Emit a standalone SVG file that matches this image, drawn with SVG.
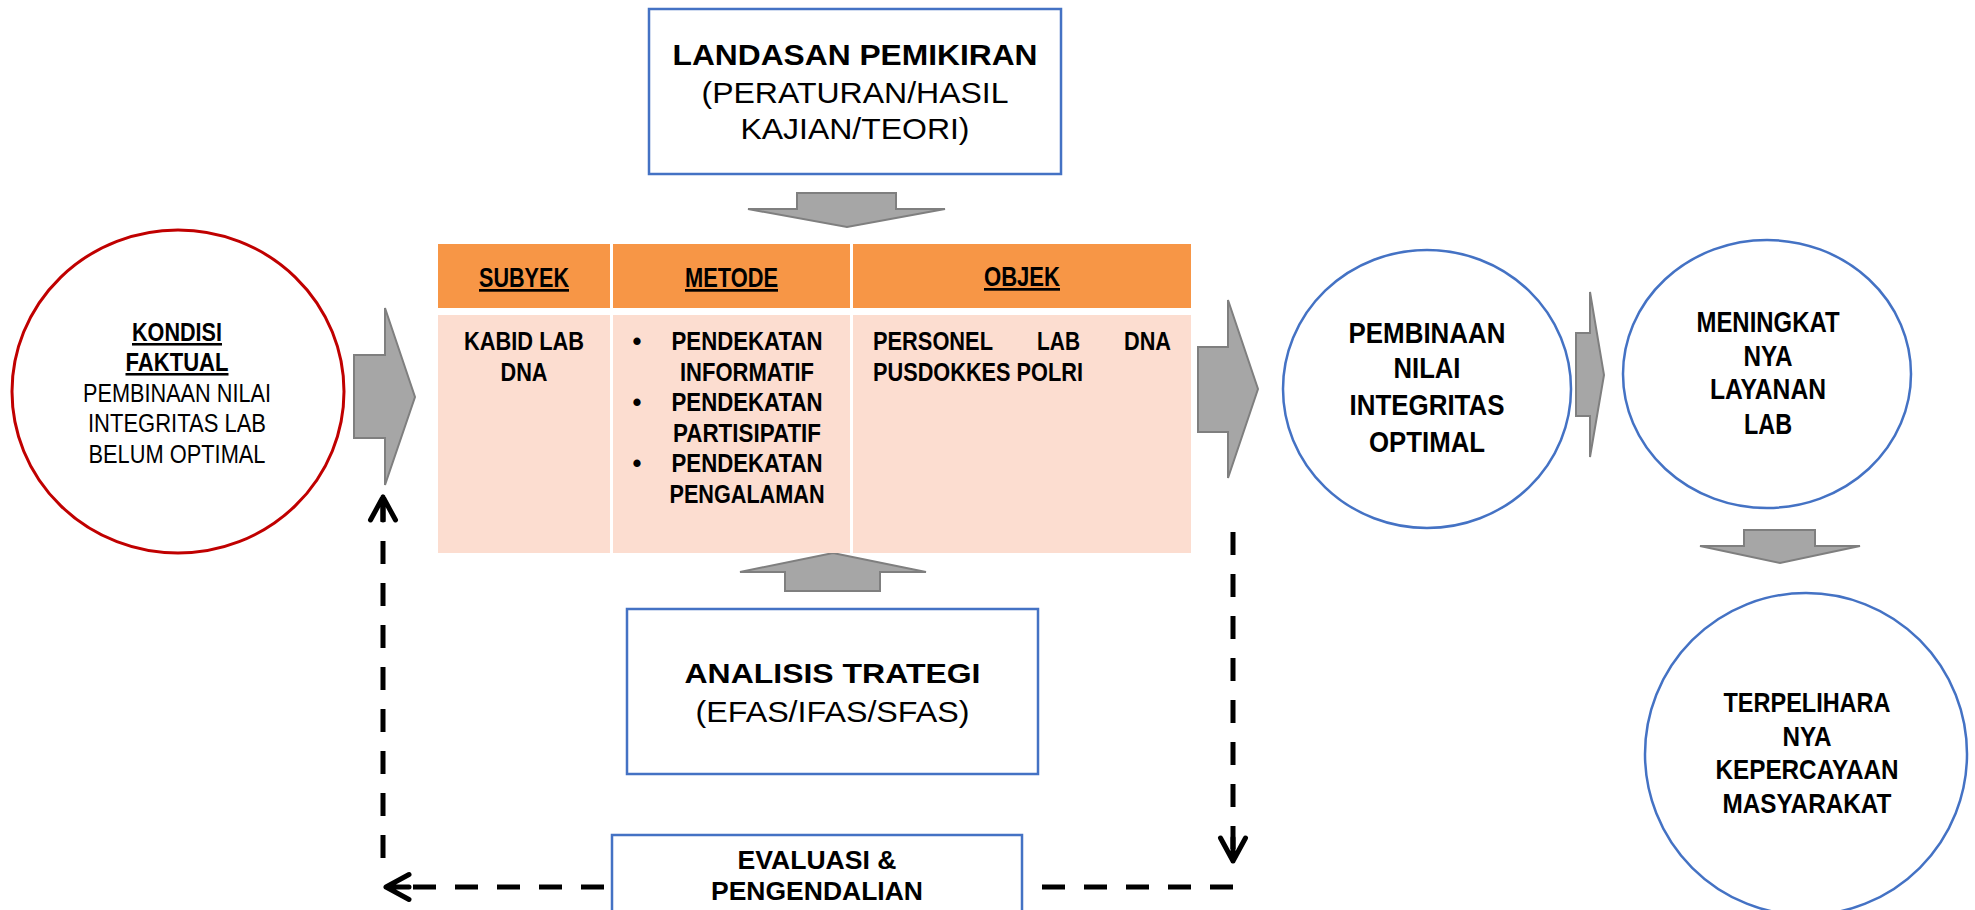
<svg xmlns="http://www.w3.org/2000/svg" width="1975" height="910" viewBox="0 0 1975 910">
<style>
  text { font-family: "Liberation Sans", Arial, sans-serif; fill: #000; }
  .b { font-weight: bold; }
  .r { font-weight: normal; }
  .u { text-decoration: underline; }
  .c { text-anchor: middle; }
  .blue { fill: #fff; stroke: #4472C4; stroke-width: 2.5; }
  .red { fill: #fff; stroke: #C00000; stroke-width: 3; }
  .hdr { fill: #F79646; }
  .body { fill: #FCDDD0; }
  .blk { fill: #A6A6A6; stroke: #7F7F7F; stroke-width: 2; stroke-linejoin: miter; }
  .dash { fill: none; stroke: #000; stroke-width: 5; stroke-dasharray: 23 19; }
</style>
<defs>
  <marker id="chev" markerUnits="userSpaceOnUse" markerWidth="40" markerHeight="40" viewBox="-30 -20 40 40" refX="0" refY="0" orient="auto" overflow="visible">
    <path d="M-23,-12.5 L0,0 L-23,12.5 M-23,0 L0,0" fill="none" stroke="#000" stroke-width="5" stroke-linecap="round" stroke-linejoin="round"/>
  </marker>
</defs>
<rect width="1975" height="910" fill="#fff"/>

<g id="connectors">
  <path class="blk" d="M354,355 L385,355 L385,308 L415,397 L385,485 L385,438 L354,438 Z"/>
  <path class="blk" d="M1198,347 L1228,347 L1228,300 L1258,389 L1228,478 L1228,432 L1198,432 Z"/>
  <path class="blk" d="M1576,333 L1590,333 L1590,292 L1604,375 L1590,457 L1590,416 L1576,416 Z"/>
  <path class="blk" d="M797,193 L896,193 L896,209 L945,209 L847,227 L748,209 L797,209 Z"/>
  <path class="blk" d="M785,591 L880,591 L880,572 L926,572 L833,553 L740,572 L785,572 Z"/>
  <path class="blk" d="M1744,530 L1815,530 L1815,546 L1860,546 L1780,563 L1700,546 L1744,546 Z"/>
  <path class="dash" d="M383,858 L383,497" marker-end="url(#chev)"/>
  <path class="dash" d="M604,887 L386,887" marker-end="url(#chev)"/>
  <path class="dash" d="M1233,532 L1233,861" marker-end="url(#chev)"/>
  <path class="dash" d="M1233,887 L1023,887"/>
</g>

<g id="kondisi">
  <ellipse class="red" cx="178" cy="391.5" rx="166" ry="161.5"/>
  <text class="b u c" x="177" y="341" font-size="25.5" textLength="90" lengthAdjust="spacingAndGlyphs">KONDISI</text>
  <text class="b u c" x="177" y="371" font-size="25.5" textLength="103" lengthAdjust="spacingAndGlyphs">FAKTUAL</text>
  <text class="r c" x="177" y="402" font-size="26" textLength="188" lengthAdjust="spacingAndGlyphs">PEMBINAAN NILAI</text>
  <text class="r c" x="177" y="432" font-size="26" textLength="178" lengthAdjust="spacingAndGlyphs">INTEGRITAS LAB</text>
  <text class="r c" x="177" y="463" font-size="26" textLength="177" lengthAdjust="spacingAndGlyphs">BELUM OPTIMAL</text>
</g>

<g id="landasan">
  <rect class="blue" x="649" y="9" width="412" height="165"/>
  <text class="b c" x="855" y="65" font-size="30" textLength="365" lengthAdjust="spacingAndGlyphs">LANDASAN PEMIKIRAN</text>
  <text class="r c" x="855" y="103" font-size="30" textLength="307" lengthAdjust="spacingAndGlyphs">(PERATURAN/HASIL</text>
  <text class="r c" x="855" y="139" font-size="30" textLength="229" lengthAdjust="spacingAndGlyphs">KAJIAN/TEORI)</text>
</g>

<g id="subyek">
  <rect class="hdr" x="438" y="244" width="172" height="64"/>
  <rect class="body" x="438" y="315" width="172" height="238"/>
  <text class="b u c" x="524" y="287" font-size="27" textLength="90" lengthAdjust="spacingAndGlyphs">SUBYEK</text>
  <text class="b c" x="524" y="350" font-size="25.5" textLength="120" lengthAdjust="spacingAndGlyphs">KABID LAB</text>
  <text class="b c" x="524" y="381" font-size="25.5" textLength="47" lengthAdjust="spacingAndGlyphs">DNA</text>
</g>

<g id="metode">
  <rect class="hdr" x="613" y="244" width="237" height="64"/>
  <rect class="body" x="613" y="315" width="237" height="238"/>
  <text class="b u c" x="731.5" y="287" font-size="27" textLength="93" lengthAdjust="spacingAndGlyphs">METODE</text>
  <text class="b c" x="637" y="350" font-size="25.5">•</text>
  <text class="b c" x="637" y="411" font-size="25.5">•</text>
  <text class="b c" x="637" y="472" font-size="25.5">•</text>
  <text class="b c" x="747" y="350" font-size="25.5" textLength="151" lengthAdjust="spacingAndGlyphs">PENDEKATAN</text>
  <text class="b c" x="747" y="381" font-size="25.5" textLength="134" lengthAdjust="spacingAndGlyphs">INFORMATIF</text>
  <text class="b c" x="747" y="411" font-size="25.5" textLength="151" lengthAdjust="spacingAndGlyphs">PENDEKATAN</text>
  <text class="b c" x="747" y="442" font-size="25.5" textLength="148" lengthAdjust="spacingAndGlyphs">PARTISIPATIF</text>
  <text class="b c" x="747" y="472" font-size="25.5" textLength="151" lengthAdjust="spacingAndGlyphs">PENDEKATAN</text>
  <text class="b c" x="747" y="503" font-size="25.5" textLength="155" lengthAdjust="spacingAndGlyphs">PENGALAMAN</text>
</g>

<g id="objek">
  <rect class="hdr" x="853" y="244" width="338" height="64"/>
  <rect class="body" x="853" y="315" width="338" height="238"/>
  <text class="b u c" x="1022" y="286" font-size="27" textLength="76" lengthAdjust="spacingAndGlyphs">OBJEK</text>
  <text class="b" x="873" y="350" font-size="25.5" textLength="120" lengthAdjust="spacingAndGlyphs">PERSONEL</text>
  <text class="b" x="1037" y="350" font-size="25.5" textLength="43" lengthAdjust="spacingAndGlyphs">LAB</text>
  <text class="b" x="1124" y="350" font-size="25.5" textLength="47" lengthAdjust="spacingAndGlyphs">DNA</text>
  <text class="b" x="873" y="381" font-size="25.5" textLength="210" lengthAdjust="spacingAndGlyphs">PUSDOKKES POLRI</text>
</g>

<g id="analisis">
  <rect class="blue" x="627" y="609" width="411" height="165"/>
  <text class="b c" x="832.5" y="683" font-size="28" textLength="296" lengthAdjust="spacingAndGlyphs">ANALISIS TRATEGI</text>
  <text class="r c" x="832.5" y="722" font-size="30" textLength="274" lengthAdjust="spacingAndGlyphs">(EFAS/IFAS/SFAS)</text>
</g>

<g id="evaluasi">
  <rect class="blue" x="612" y="835" width="410" height="110"/>
  <text class="b c" x="817" y="869" font-size="25" textLength="159" lengthAdjust="spacingAndGlyphs">EVALUASI &amp;</text>
  <text class="b c" x="817" y="900" font-size="25" textLength="212" lengthAdjust="spacingAndGlyphs">PENGENDALIAN</text>
</g>

<g id="pembinaan">
  <ellipse class="blue" cx="1427" cy="389" rx="144" ry="139"/>
  <text class="b c" x="1427" y="343" font-size="29" textLength="157" lengthAdjust="spacingAndGlyphs">PEMBINAAN</text>
  <text class="b c" x="1427" y="378" font-size="29" textLength="67" lengthAdjust="spacingAndGlyphs">NILAI</text>
  <text class="b c" x="1427" y="415" font-size="29" textLength="155" lengthAdjust="spacingAndGlyphs">INTEGRITAS</text>
  <text class="b c" x="1427" y="452" font-size="29" textLength="116" lengthAdjust="spacingAndGlyphs">OPTIMAL</text>
</g>

<g id="meningkat">
  <ellipse class="blue" cx="1767" cy="374" rx="144" ry="134"/>
  <text class="b c" x="1768" y="332" font-size="29" textLength="143" lengthAdjust="spacingAndGlyphs">MENINGKAT</text>
  <text class="b c" x="1768" y="366" font-size="29" textLength="49" lengthAdjust="spacingAndGlyphs">NYA</text>
  <text class="b c" x="1768" y="399" font-size="29" textLength="116" lengthAdjust="spacingAndGlyphs">LAYANAN</text>
  <text class="b c" x="1768" y="434" font-size="29" textLength="48" lengthAdjust="spacingAndGlyphs">LAB</text>
</g>

<g id="terpelihara">
  <ellipse class="blue" cx="1806" cy="754" rx="161" ry="161"/>
  <text class="b c" x="1807" y="712" font-size="28" textLength="167" lengthAdjust="spacingAndGlyphs">TERPELIHARA</text>
  <text class="b c" x="1807" y="746" font-size="28" textLength="49" lengthAdjust="spacingAndGlyphs">NYA</text>
  <text class="b c" x="1807" y="779" font-size="28" textLength="183" lengthAdjust="spacingAndGlyphs">KEPERCAYAAN</text>
  <text class="b c" x="1807" y="813" font-size="28" textLength="169" lengthAdjust="spacingAndGlyphs">MASYARAKAT</text>
</g>
</svg>
